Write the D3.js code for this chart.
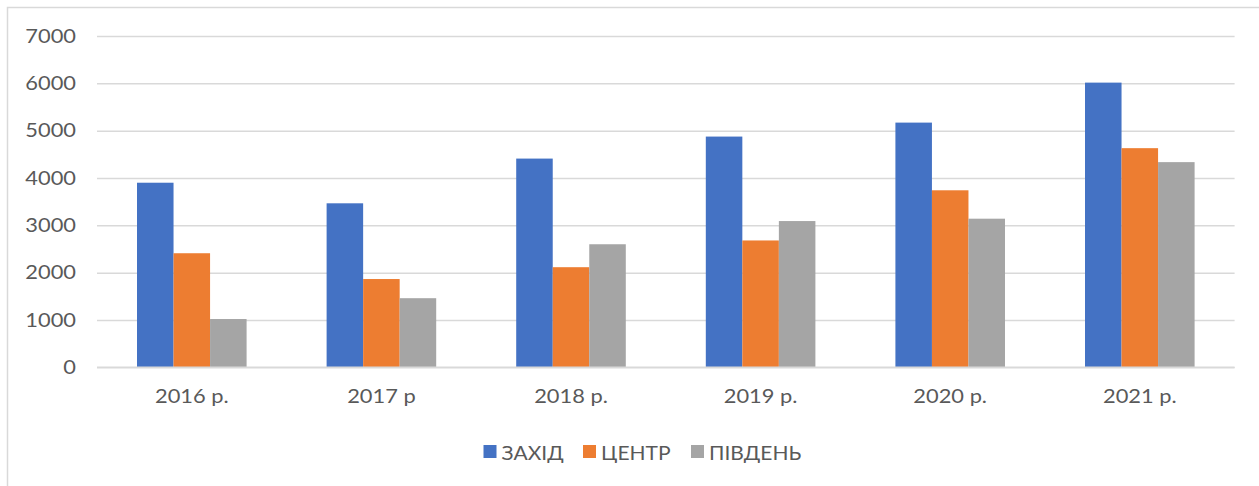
<!DOCTYPE html>
<html>
<head>
<meta charset="utf-8">
<script src="https://cdn.jsdelivr.net/npm/d3@7"></script>
<style>
  html, body { margin: 0; padding: 0; background: #fff; }
  svg { display: block; }
  text { font-family: Lato, "Open Sans", sans-serif; fill: #595959; }
</style>
</head>
<body>
<svg id="chart" width="1259" height="486"></svg>
<script>
const categories = ["2016 р.", "2017 р", "2018 р.", "2019 р.", "2020 р.", "2021 р."];
const seriesNames = ["ЗАХІД", "ЦЕНТР", "ПІВДЕНЬ"];
const zakhid  = [3900, 3465, 4410, 4875, 5170, 6015];
const tsentr  = [2410, 1865, 2115, 2680, 3740, 4630];
const pivden  = [1020, 1460, 2600, 3090, 3140, 4335];
const yTicks  = [0, 1000, 2000, 3000, 4000, 5000, 6000, 7000];
const colors  = ["#4472C4", "#ED7D31", "#A5A5A5"];

const seriesValues = [zakhid, tsentr, pivden];
const rows = categories.map((c, i) => ({
  cat: c,
  vals: seriesNames.map((s, j) => ({ series: s, value: seriesValues[j][i], color: colors[j] }))
}));

const svg = d3.select("#chart");

function stretch(sel, k) {
  sel.each(function () {
    const len = this.getComputedTextLength();
    d3.select(this).attr("textLength", len * k).attr("lengthAdjust", "spacingAndGlyphs");
  });
}

// chart border (partially cropped frame)
svg.append("path")
  .attr("d", "M7.5,486 L7.5,7.5 L1259,7.5")
  .attr("fill", "none")
  .attr("stroke", "#d9d9d9")
  .attr("stroke-width", 1.5);

const plotLeft = 97, plotRight = 1234.6, plotTop = 36, plotBottom = 367.3;

const x0 = d3.scaleBand().domain(categories).range([plotLeft, plotRight]).padding(0);
const step = x0.step();
const x1 = d3.scaleBand().domain(seriesNames).range([step * 0.211, step * 0.789]).padding(0);
const y = d3.scaleLinear().domain([0, 7000]).range([plotBottom, plotTop]);

// gridlines
const yAxis = d3.axisLeft(y).tickValues(yTicks).tickSize(-(plotRight - plotLeft)).tickPadding(21).tickFormat(d3.format("d"));
const gy = svg.append("g").attr("transform", `translate(${plotLeft},0)`).call(yAxis);
gy.select(".domain").remove();
gy.selectAll(".tick line").attr("stroke", "#d9d9d9").attr("stroke-width", 1.5);
gy.selectAll(".tick text")
  .attr("fill", "#595959")
  .style("font-family", "Lato, 'Open Sans', sans-serif")
  .style("font-size", "19.5px")
  .call(stretch, 1.12);

// bars
const groups = svg.append("g").selectAll("g")
  .data(rows).join("g")
  .attr("transform", d => `translate(${x0(d.cat)},0)`);

groups.selectAll("rect")
  .data(d => d.vals).join("rect")
  .attr("x", d => x1(d.series))
  .attr("width", x1.bandwidth())
  .attr("y", d => y(d.value))
  .attr("height", d => y(0) - y(d.value))
  .attr("fill", d => d.color);

// x axis labels
const xAxis = d3.axisBottom(x0).tickSize(0).tickPadding(22);
const gx = svg.append("g").attr("transform", `translate(0,${plotBottom})`).call(xAxis);
gx.select(".domain").remove();
gx.selectAll(".tick text")
  .attr("fill", "#595959")
  .style("font-family", "Lato, 'Open Sans', sans-serif")
  .style("font-size", "19.5px")
  .call(stretch, 1.12);

// baseline gridline on top of bars
svg.append("line")
  .attr("x1", plotLeft).attr("x2", plotRight)
  .attr("y1", y(0)).attr("y2", y(0))
  .attr("stroke", "#d9d9d9").attr("stroke-width", 1.5);

// legend
const legendX = [483.5, 583, 691];
const legend = svg.append("g").selectAll("g")
  .data(seriesNames).join("g")
  .attr("transform", (d, i) => `translate(${legendX[i]},445)`);
legend.append("rect")
  .attr("width", 13).attr("height", 13)
  .attr("fill", (d, i) => colors[i]);
legend.append("text")
  .attr("x", 18).attr("y", 14.5)
  .style("font-size", "20px")
  .text(d => d)
  .call(stretch, 1.05);
</script>
</body>
</html>
